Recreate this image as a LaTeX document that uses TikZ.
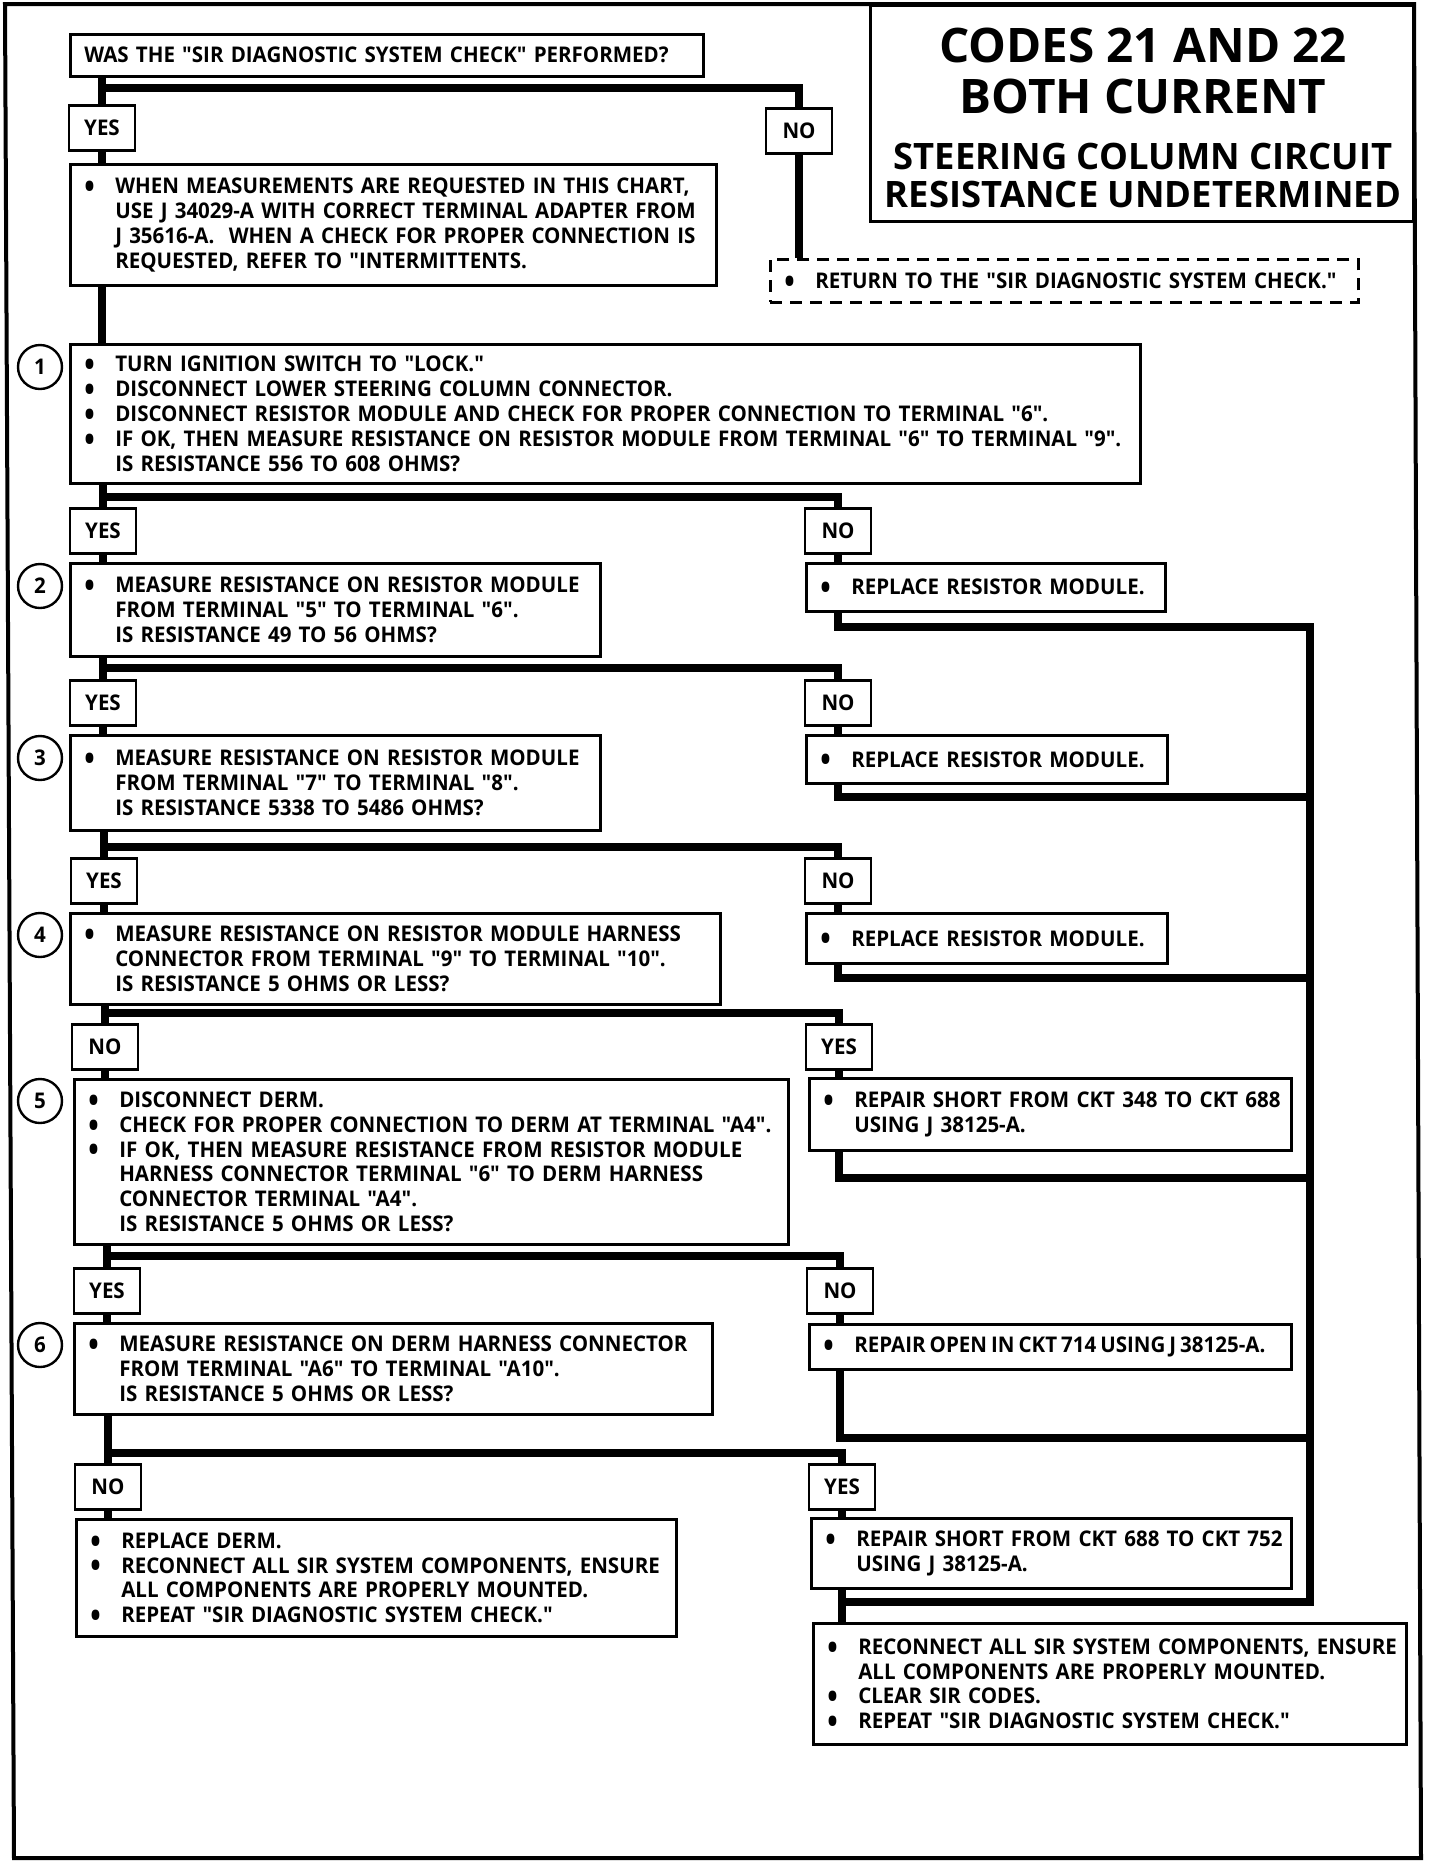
\documentclass[tikz,border=0pt]{standalone}
\usepackage{fontspec}
\newfontfamily\chartfont{Open Sans}[FakeStretch=0.95]
\newfontfamily\headfont{Open Sans}
\usetikzlibrary{positioning}

\newcommand{\chartbody}{\chartfont\bfseries\fontsize{10.8}{12.4}\selectfont}
\newcommand{\titlebig}{\headfont\bfseries\fontsize{23.8}{25}\selectfont}
\newcommand{\titlesmall}{\headfont\bfseries\fontsize{18.2}{19}\selectfont}
% one line with a bullet, one continued line
\newcommand{\itm}[1]{\mbox{\makebox[15.5pt][l]{\smash{\raisebox{-2.4pt}{\scalebox{1.35}[1.55]{•}}}}#1}}
\newcommand{\cnt}[1]{\mbox{\hspace*{15.5pt}#1}}

\begin{document}
\begin{tikzpicture}[x=0.5pt, y=-0.5pt,
    stepbox/.style={draw, line width=1.3pt, anchor=north west, inner xsep=7pt, inner ysep=0pt, align=left, font=\chartbody},
    retbox/.style={stepbox, dashed, dash pattern=on 6pt off 4pt},
    answer/.style={draw, line width=1.3pt, anchor=north, minimum width=33pt, minimum height=22.5pt, inner sep=0pt, font=\chartbody},
    stepnum/.style={circle, draw, line width=1.2pt, minimum size=22pt, inner sep=0pt, font=\chartbody},
    titleline/.style={anchor=base, inner sep=0pt},
    flow/.style={line width=3.6pt}
]
\useasboundingbox (0,0) rectangle (1440,1864);

% --- frame and title ---
\draw[line width=2pt] (5,4) -- (1414,4) -- (1421,1858) -- (14,1858) -- cycle;
\node[draw, line width=1.5pt, anchor=north west, minimum width=271.5pt, minimum height=108pt, inner sep=0pt] (title) at (869,4) {};
\node[titleline, font=\titlebig] (t1) at (1143,62) {CODES 21 AND 22};
\node[titleline, font=\titlebig] (t2) at (1143,113) {BOTH CURRENT};
\node[titleline, font=\titlesmall] (t3) at (1143,169) {STEERING COLUMN CIRCUIT};
\node[titleline, font=\titlesmall] (t4) at (1143,207) {RESISTANCE UNDETERMINED};

% --- start ---
\node[stepbox, text width=302.5pt, minimum height=21pt] (was) at (69,33) {\mbox{WAS THE "SIR DIAGNOSTIC SYSTEM CHECK" PERFORMED?}};
\node[answer] (y0) at (102,104) {YES};
\node[answer] (n0) at (799,107) {NO};
\node[stepbox, text width=309pt, minimum height=60.5pt] (note) at (69,163) {\itm{WHEN MEASUREMENTS ARE REQUESTED IN THIS CHART,}\\
  \cnt{USE J 34029-A WITH CORRECT TERMINAL ADAPTER FROM}\\
  \cnt{J 35616-A.~ WHEN A CHECK FOR PROPER CONNECTION IS}\\
  \cnt{REQUESTED, REFER TO "INTERMITTENTS.}};
\node[retbox, text width=280pt, minimum height=21.5pt] (ret) at (769,258) {\itm{RETURN TO THE "SIR DIAGNOSTIC SYSTEM CHECK."}};

% --- step 1 ---
\node[stepnum] (s1) at (40,367) {1};
\node[stepbox, text width=521pt, minimum height=69.5pt] (q1) at (69,343) {\itm{TURN IGNITION SWITCH TO "LOCK."}\\
  \itm{DISCONNECT LOWER STEERING COLUMN CONNECTOR.}\\
  \itm{DISCONNECT RESISTOR MODULE AND CHECK FOR PROPER CONNECTION TO TERMINAL "6".}\\
  \itm{IF OK, THEN MEASURE RESISTANCE ON RESISTOR MODULE FROM TERMINAL "6" TO TERMINAL "9".}\\
  \cnt{IS RESISTANCE 556 TO 608 OHMS?}};
\node[answer] (yes1) at (103,507) {YES};
\node[answer] (no1) at (838,507) {NO};

% --- step 2 ---
\node[stepnum] (s2) at (40,586) {2};
\node[stepbox, text width=251pt, minimum height=46.5pt] (q2) at (69,562) {\itm{MEASURE RESISTANCE ON RESISTOR MODULE}\\
  \cnt{FROM TERMINAL "5" TO TERMINAL "6".}\\
  \cnt{IS RESISTANCE 49 TO 56 OHMS?}};
\node[stepbox, text width=165.5pt, minimum height=24pt] (r1) at (805,562) {\itm{REPLACE RESISTOR MODULE.}};
\node[answer] (yes2) at (103,679) {YES};
\node[answer] (no2) at (838,679) {NO};

% --- step 3 ---
\node[stepnum] (s3) at (40,758) {3};
\node[stepbox, text width=251pt, minimum height=47.5pt] (q3) at (69,734) {\itm{MEASURE RESISTANCE ON RESISTOR MODULE}\\
  \cnt{FROM TERMINAL "7" TO TERMINAL "8".}\\
  \cnt{IS RESISTANCE 5338 TO 5486 OHMS?}};
\node[stepbox, text width=166.5pt, minimum height=24pt] (r2) at (805,734) {\itm{REPLACE RESISTOR MODULE.}};
\node[answer] (yes3) at (104,857) {YES};
\node[answer] (no3) at (838,857) {NO};

% --- step 4 ---
\node[stepnum] (s4) at (40,935) {4};
\node[stepbox, text width=311pt, minimum height=45.5pt] (q4) at (69,912) {\itm{MEASURE RESISTANCE ON RESISTOR MODULE HARNESS}\\
  \cnt{CONNECTOR FROM TERMINAL "9" TO TERMINAL "10".}\\
  \cnt{IS RESISTANCE 5 OHMS OR LESS?}};
\node[stepbox, text width=166.5pt, minimum height=25pt] (r3) at (805,912) {\itm{REPLACE RESISTOR MODULE.}};
\node[answer] (no4) at (105,1023) {NO};
\node[answer] (yes4) at (839,1023) {YES};

% --- step 5 ---
\node[stepnum] (s5) at (40,1101) {5};
\node[stepbox, text width=343pt, minimum height=82.5pt] (q5) at (73,1078) {\itm{DISCONNECT DERM.}\\
  \itm{CHECK FOR PROPER CONNECTION TO DERM AT TERMINAL "A4".}\\
  \itm{IF OK, THEN MEASURE RESISTANCE FROM RESISTOR MODULE}\\
  \cnt{HARNESS CONNECTOR TERMINAL "6" TO DERM HARNESS}\\
  \cnt{CONNECTOR TERMINAL "A4".}\\
  \cnt{IS RESISTANCE 5 OHMS OR LESS?}};
\node[stepbox, text width=227pt, minimum height=36pt] (r4) at (808,1077) {\itm{REPAIR SHORT FROM CKT 348 TO CKT 688}\\
  \cnt{USING J 38125-A.}};
\node[answer] (yes5) at (107,1267) {YES};
\node[answer] (no5) at (840,1267) {NO};

% --- step 6 ---
\node[stepnum] (s6) at (40,1345) {6};
\node[stepbox, text width=305pt, minimum height=45.5pt] (q6) at (73,1322) {\itm{MEASURE RESISTANCE ON DERM HARNESS CONNECTOR}\\
  \cnt{FROM TERMINAL "A6" TO TERMINAL "A10".}\\
  \cnt{IS RESISTANCE 5 OHMS OR LESS?}};
\node[stepbox, text width=227pt, minimum height=22.5pt] (r5) at (808,1323) {\spaceskip=2pt\itm{REPAIR OPEN IN CKT 714 USING J 38125-A.}};
\node[answer] (no6) at (108,1463) {NO};
\node[answer] (yes6) at (842,1463) {YES};

% --- endings ---
\node[stepbox, text width=286pt, minimum height=58.5pt] (fin1) at (75,1518) {\itm{REPLACE DERM.}\\
  \itm{RECONNECT ALL SIR SYSTEM COMPONENTS, ENSURE}\\
  \cnt{ALL COMPONENTS ARE PROPERLY MOUNTED.}\\
  \itm{REPEAT "SIR DIAGNOSTIC SYSTEM CHECK."}};
\node[stepbox, text width=226pt, minimum height=35pt] (r6) at (810,1517) {\itm{REPAIR SHORT FROM CKT 688 TO CKT 752}\\
  \cnt{USING J 38125-A.}};
\node[stepbox, text width=282.5pt, minimum height=60.5pt] (fin2) at (812,1622) {\itm{RECONNECT ALL SIR SYSTEM COMPONENTS, ENSURE}\\
  \cnt{ALL COMPONENTS ARE PROPERLY MOUNTED.}\\
  \itm{CLEAR SIR CODES.}\\
  \itm{REPEAT "SIR DIAGNOSTIC SYSTEM CHECK."}};

% --- branch points ---
\coordinate (b0) at (102,88);
\coordinate (b1) at (103,497);
\coordinate (b2) at (103,668);
\coordinate (b3) at (104,847);
\coordinate (b4) at (105,1013);
\coordinate (b5) at (107,1256);
\coordinate (b6) at (108,1453);
\coordinate (k1) at (1310,627);
\coordinate (k2) at (1310,797);
\coordinate (k3) at (1310,978);
\coordinate (k4) at (1310,1178);
\coordinate (k5) at (1310,1438);
\coordinate (k6) at (1310,1602);

% --- connectors ---
\draw[flow] (was.south -| y0.north) -- (y0.north);
\draw[flow] (b0) -| (n0.north);
\draw[flow] (y0.south) -- (y0.south |- note.north);
\draw[flow] (n0.south) -- (n0.south |- ret.north);
\draw[flow] (y0.south |- note.south) -- (y0.south |- q1.north);

\draw[flow] (yes1.north |- q1.south) -- (yes1.north);
\draw[flow] (b1) -| (no1.north);
\draw[flow] (yes1.south) -- (yes1.south |- q2.north);
\draw[flow] (no1.south) -- (no1.south |- r1.north);

\draw[flow] (yes2.north |- q2.south) -- (yes2.north);
\draw[flow] (b2) -| (no2.north);
\draw[flow] (yes2.south) -- (yes2.south |- q3.north);
\draw[flow] (no2.south) -- (no2.south |- r2.north);

\draw[flow] (yes3.north |- q3.south) -- (yes3.north);
\draw[flow] (b3) -| (no3.north);
\draw[flow] (yes3.south) -- (yes3.south |- q4.north);
\draw[flow] (no3.south) -- (no3.south |- r3.north);

\draw[flow] (no4.north |- q4.south) -- (no4.north);
\draw[flow] (b4) -| (yes4.north);
\draw[flow] (no4.south) -- (no4.south |- q5.north);
\draw[flow] (yes4.south) -- (yes4.south |- r4.north);

\draw[flow] (yes5.north |- q5.south) -- (yes5.north);
\draw[flow] (b5) -| (no5.north);
\draw[flow] (yes5.south) -- (yes5.south |- q6.north);
\draw[flow] (no5.south) -- (no5.south |- r5.north);

\draw[flow] (no6.north |- q6.south) -- (no6.north);
\draw[flow] (b6) -| (yes6.north);
\draw[flow] (no6.south) -- (no6.south |- fin1.north);
\draw[flow] (yes6.south) -- (yes6.south |- r6.north);

% --- return line ---
\draw[flow] (r1.south -| no1.south) |- (k1) -- (k6) -| (fin2.north -| yes6.south);
\draw[flow] (r2.south -| no2.south) |- (k2);
\draw[flow] (r3.south -| no3.south) |- (k3);
\draw[flow] (r4.south -| yes4.south) |- (k4);
\draw[flow] (r5.south -| no5.south) |- (k5);
\draw[flow] (r6.south -| yes6.south) -- (yes6.south |- k6);

\end{tikzpicture}
\end{document}
